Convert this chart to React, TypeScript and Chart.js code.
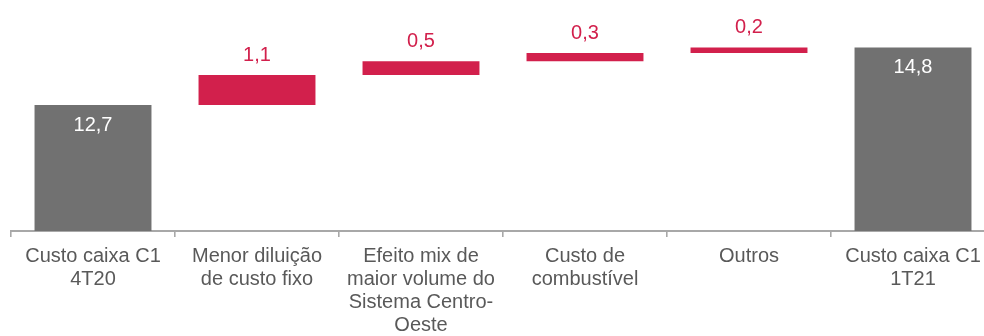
import React, { useEffect, useRef } from "react";
import { Chart, registerables } from "chart.js";

Chart.register(...registerables);

const categories: string[][] = [
  ["Custo caixa C1", "4T20"],
  ["Menor diluição", "de custo fixo"],
  ["Efeito mix de", "maior volume do", "Sistema Centro-", "Oeste"],
  ["Custo de", "combustível"],
  ["Outros"],
  ["Custo caixa C1", "1T21"],
];
const values: number[] = [12.7, 1.1, 0.5, 0.3, 0.2, 14.8];
const isTotal: boolean[] = [true, false, false, false, false, true];

const Y_MIN = 8.1;
const Y_MAX = 16.54;
const GRAY = "#717171";
const RED = "#D2204C";
const AXIS = "#A8A8A8";
const LABEL = "#595959";
const FONT = "'Liberation Sans', Arial, sans-serif";
const CANVAS_W = 996;
const CANVAS_H = 336;

function buildRanges(): [number, number][] {
  let running = 0;
  return values.map((v, i) => {
    if (isTotal[i]) {
      running = v;
      return [Y_MIN, v];
    }
    const start = running;
    running = running + v;
    return [start, running];
  });
}

const fmt = (v: number) => v.toFixed(1).replace(".", ",");

const labelPlugin = {
  id: "wfLabels",
  afterDatasetsDraw(chart: any) {
    const ctx = chart.ctx;
    const meta = chart.getDatasetMeta(0);
    ctx.save();
    ctx.font = `20px ${FONT}`;
    ctx.textAlign = "center";
    ctx.textBaseline = "middle";
    meta.data.forEach((el: any, i: number) => {
      const top = Math.min(el.y, el.base);
      if (isTotal[i]) {
        ctx.fillStyle = "#FFFFFF";
        ctx.fillText(fmt(values[i]), el.x, top + 20);
      } else {
        ctx.fillStyle = RED;
        ctx.fillText(fmt(values[i]), el.x, top - 20);
      }
    });
    ctx.restore();
  },
};

export default function App() {
  const ref = useRef<HTMLCanvasElement | null>(null);
  useEffect(() => {
    document.body.style.margin = "0";
    document.body.style.overflow = "hidden";
    if (!ref.current) return;
    const chart = new Chart(ref.current, {
      type: "bar",
      data: {
        labels: categories as any,
        datasets: [
          {
            data: buildRanges() as any,
            backgroundColor: values.map((_, i) => (isTotal[i] ? GRAY : RED)),
            borderWidth: 0,
            barPercentage: 0.713,
            categoryPercentage: 1,
          },
        ],
      },
      options: {
        animation: false,
        responsive: false,
        devicePixelRatio: 1,
        layout: { padding: { left: 11, right: 1, top: 0, bottom: 0 } },
        plugins: {
          legend: { display: false },
          tooltip: { enabled: false },
        },
        scales: {
          x: {
            afterFit: (scale: any) => {
              scale.height = 105;
            },
            grid: {
              display: true,
              drawOnChartArea: false,
              drawTicks: true,
              tickLength: 6,
              color: AXIS,
              lineWidth: 1.6,
              offset: true,
            },
            border: { display: true, color: AXIS, width: 2 },
            ticks: {
              color: LABEL,
              font: { family: FONT, size: 20, lineHeight: 1.15 },
              padding: 8,
              maxRotation: 0,
              autoSkip: false,
            },
          },
          y: {
            display: false,
            min: Y_MIN,
            max: Y_MAX,
          },
        },
      },
      plugins: [labelPlugin],
    });
    return () => chart.destroy();
  }, []);
  return (
    <div style={{ width: 984, height: 336, overflow: "hidden", background: "#fff" }}>
      <canvas ref={ref} width={CANVAS_W} height={CANVAS_H} style={{ display: "block" }} />
    </div>
  );
}
